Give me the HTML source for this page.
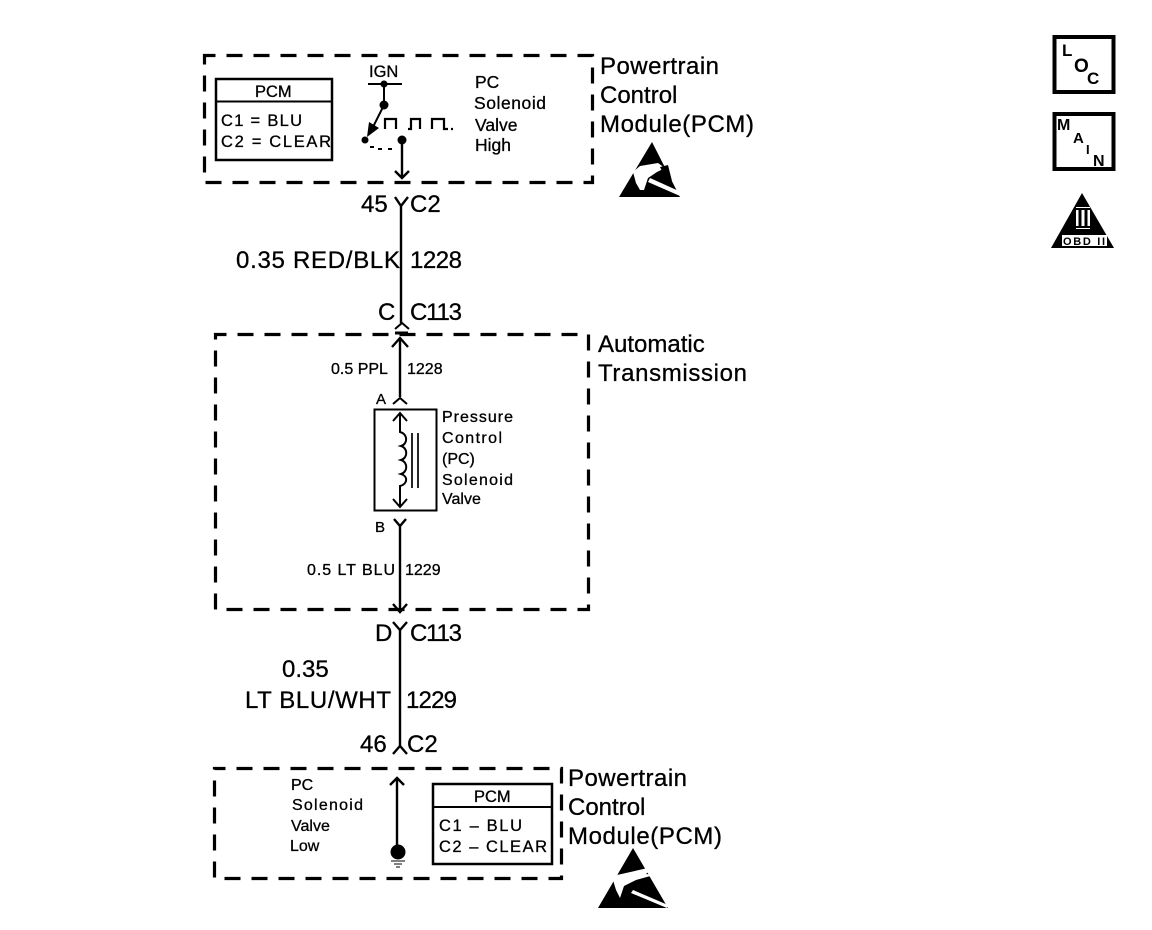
<!DOCTYPE html>
<html>
<head>
<meta charset="utf-8">
<style>
html,body{margin:0;padding:0;background:#fff;width:1152px;height:930px;overflow:hidden}
svg{display:block}
text{font-family:"Liberation Sans",sans-serif;fill:#000;stroke:#000;stroke-width:.3;white-space:pre}
.b{font-size:24px}
.s{font-size:17.5px}
.m{font-size:16.5px}
.f{font-size:16px}
.d{fill:none;stroke:#000;stroke-width:3.2;stroke-dasharray:16 11;stroke-dashoffset:5}
.w{fill:none;stroke:#000;stroke-width:2.4}
.t{fill:none;stroke:#000;stroke-width:2}
.i{font-weight:bold;stroke-width:0}
</style>
</head>
<body>
<svg width="1152" height="930" viewBox="0 0 1152 930" xmlns="http://www.w3.org/2000/svg">
<!-- Top PCM -->
<rect class="d" x="204.500" y="55.500" width="388" height="127"/>
<rect x="216" y="79" width="116" height="81" fill="none" stroke="#000" stroke-width="2.500"/>
<line x1="216" y1="101.500" x2="332" y2="101.500" stroke="#000" stroke-width="2"/>
<text class="m" x="255" y="97">PCM</text>
<text class="m" x="221" y="126" textLength="81">C1 = BLU</text>
<text class="m" x="221" y="147" textLength="110">C2 = CLEAR</text>
<text class="m" x="369" y="77">IGN</text>
<line x1="368" y1="84" x2="402" y2="84" stroke="#000" stroke-width="2"/>
<path class="t" d="M384 84V105L370 133"/>
<path d="M367 137L369 122L379 128Z" fill="#000"/>
<circle cx="384" cy="84" r="3.500"/>
<circle cx="384" cy="105" r="4.500"/>
<circle cx="365" cy="140" r="3.500"/>
<circle cx="402" cy="140" r="4.500"/>
<path class="t" d="M370 147H374M378 149H382M388 149H392"/>
<path d="M385 129V119H396V129M408 129H411V119H420V129M432 129V119H444V129H448M451 129H453" fill="none" stroke="#000" stroke-width="2.200"/>
<path class="w" d="M402 140V178M395 171L402 178L409 171"/>
<text class="s" x="475" y="88">PC</text>
<text class="s" x="474" y="109" textLength="72">Solenoid</text>
<text class="s" x="475" y="131">Valve</text>
<text class="s" x="475" y="151">High</text>
<text class="b" x="600" y="74" textLength="119">Powertrain</text>
<text class="b" x="600" y="103">Control</text>
<text class="b" x="600" y="132" textLength="154">Module(PCM)</text>
<!-- ESD top -->
<path d="M652 142L680 197H619Z" fill="#000"/>
<path d="M633 172L640 166L658 163L665 168L657 172L648 178L644 190H640L636 183ZM650 178L681 192L680 196L648 182Z" fill="#fff"/>
<path d="M660 167L668 165L672 181L664 175Z" fill="#000"/>
<!-- Side icons -->
<rect x="1054.500" y="37" width="59" height="55" fill="none" stroke="#000" stroke-width="4"/>
<text class="i" x="1062" y="56" style="font-size:17px">L</text>
<text class="i" x="1074" y="72" style="font-size:19px">O</text>
<text class="i" x="1087" y="84" style="font-size:17px">C</text>
<rect x="1054.500" y="114" width="59" height="55" fill="none" stroke="#000" stroke-width="4"/>
<text class="i" x="1057" y="130" style="font-size:16px">M</text>
<text class="i" x="1073" y="143" style="font-size:15px">A</text>
<text class="i" x="1086" y="154" style="font-size:13px">I</text>
<text class="i" x="1093" y="166" style="font-size:16px">N</text>
<path d="M1082 193L1114 248H1051Z" fill="#000"/>
<rect x="1076" y="207" width="14" height="22" fill="#fff"/>
<path d="M1080 209V227M1086 209V227" stroke="#000" stroke-width="3"/>
<path d="M1076 209H1090M1076 227H1090" stroke="#000" stroke-width="2"/>
<rect x="1062" y="235" width="45" height="11" fill="#fff"/>
<text class="i" x="1063" y="245" style="font-size:11px" textLength="42">OBD II</text>
<!-- Connection 45 C2 -->
<text class="b" x="361" y="212">45</text>
<text class="b" x="410" y="212">C2</text>
<path class="w" d="M395 197L401 206L408 197M401 206V323"/>
<text class="b" x="236" y="268" textLength="164">0.35 RED/BLK</text>
<text class="b" x="410" y="268" textLength="52">1228</text>
<text class="b" x="378" y="320">C</text>
<text class="b" x="410" y="320" textLength="52">C113</text>
<path class="t" d="M395 329L402 323L409 329"/>
<!-- Transmission -->
<rect class="d" x="215.500" y="334.500" width="373" height="275"/>
<path d="M395 333H408" stroke="#000" stroke-width="3"/>
<path class="w" d="M400 339V397"/>
<path class="w" d="M392 347L400 338L408 347"/>
<text class="f" x="331" y="374">0.5 PPL</text>
<text class="f" x="407" y="374">1228</text>
<text x="376" y="404" style="font-size:15px">A</text>
<path class="t" d="M393 404L400 398L407 404"/>
<text class="b" x="598" y="352">Automatic</text>
<text class="b" x="598" y="381" textLength="149">Transmission</text>
<rect x="374.500" y="409.500" width="62" height="101" fill="none" stroke="#000" stroke-width="2"/>
<path class="t" d="M400 414V432C408 434 408 444 401 446C408 448 408 458 401 460C408 462 408 472 401 474C408 476 408 484 400 486V506"/>
<path class="t" d="M393 421L400 413L407 421M393 499L400 507L407 499"/>
<path d="M412 433V488M418 433V488" stroke="#000" stroke-width="1.700"/>
<text class="f" x="442" y="422" textLength="71">Pressure</text>
<text class="f" x="442" y="443" textLength="60">Control</text>
<text class="f" x="442" y="464">(PC)</text>
<text class="f" x="442" y="485" textLength="71">Solenoid</text>
<text class="f" x="442" y="504">Valve</text>
<text x="375" y="532" style="font-size:15px">B</text>
<path class="w" d="M394 519L400 526L406 519M400 526V612"/>
<text class="f" x="307" y="575" textLength="88">0.5 LT BLU</text>
<text class="f" x="405" y="575">1229</text>
<path class="w" d="M393 604L400 612L407 604"/>
<!-- D C113 -->
<text class="b" x="375" y="641">D</text>
<text class="b" x="410" y="641" textLength="52">C113</text>
<path class="w" d="M393 622L400 630L407 622M400 630V746"/>
<text class="b" x="282" y="677">0.35</text>
<text class="b" x="245" y="708" textLength="146">LT BLU/WHT</text>
<text class="b" x="406" y="708" textLength="51">1229</text>
<text class="b" x="360" y="752">46</text>
<text class="b" x="407" y="752">C2</text>
<path class="w" d="M393 754L400 746L407 754"/>
<!-- Bottom PCM -->
<rect class="d" x="214.500" y="768.500" width="347" height="110"/>
<path class="w" d="M397 778V852M390 785L397 778L404 785"/>
<circle cx="398" cy="852" r="7.500"/>
<path d="M391 861H405M394 864H402M396 867H400" stroke="#000" stroke-width="1"/>
<text class="f" x="291" y="790">PC</text>
<text class="f" x="292" y="810" textLength="71">Solenoid</text>
<text class="f" x="291" y="831">Valve</text>
<text class="f" x="290" y="851">Low</text>
<rect x="433" y="784" width="119" height="80" fill="none" stroke="#000" stroke-width="2.500"/>
<line x1="433" y1="807" x2="552" y2="807" stroke="#000" stroke-width="2"/>
<text class="m" x="474" y="802">PCM</text>
<text class="m" x="439" y="831" textLength="83">C1 – BLU</text>
<text class="m" x="439" y="852" textLength="108">C2 – CLEAR</text>
<text class="b" x="568" y="786" textLength="119">Powertrain</text>
<text class="b" x="568" y="815">Control</text>
<text class="b" x="568" y="844" textLength="154">Module(PCM)</text>
<!-- ESD bottom -->
<path d="M633 848L668 908H598Z" fill="#000"/>
<path d="M613 880L617 875L648 868L650 870L646 874L654 875L636 880L624 886L620 898L616 890ZM633 890L668 905L667 908L631 893Z" fill="#fff"/>
</svg>
</body>
</html>
